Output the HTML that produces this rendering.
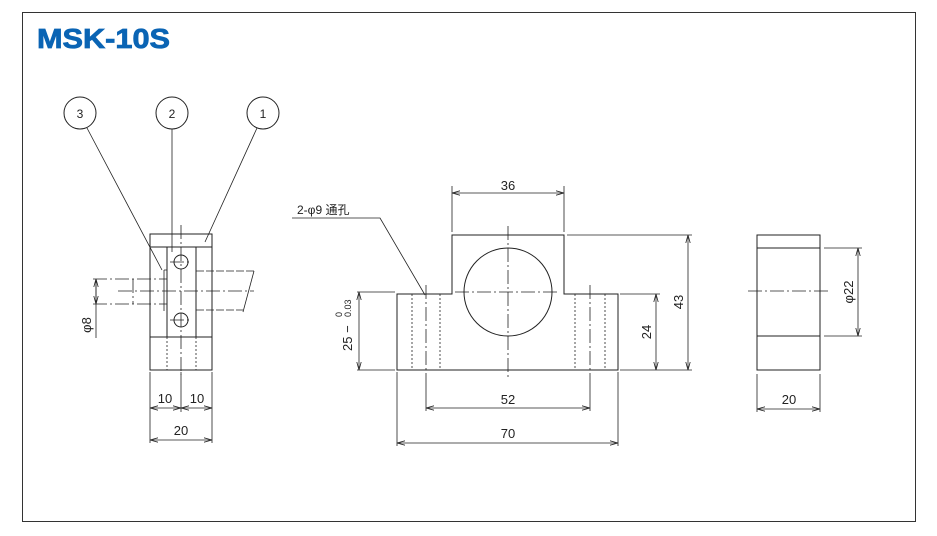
<!DOCTYPE html>
<html><head><meta charset="utf-8"><style>html,body{margin:0;padding:0;background:#fff}svg{display:block}</style></head><body>
<svg width="937" height="536" viewBox="0 0 937 536" xmlns="http://www.w3.org/2000/svg" font-family="Liberation Sans, Noto Sans CJK JP, sans-serif">
<defs><marker id="a" markerWidth="8" markerHeight="6" refX="8" refY="3" orient="auto-start-reverse" markerUnits="userSpaceOnUse"><path d="M0,0.8 L8,3 L0,5.2" fill="none" stroke="#222" stroke-width="0.8"/></marker></defs>
<rect x="22.5" y="12.5" width="893" height="509" fill="none" stroke="#333" stroke-width="1"/>
<text x="37" y="48" font-size="28" font-weight="bold" fill="#0a64b4" stroke="#0a64b4" stroke-width="0.8" textLength="133" lengthAdjust="spacingAndGlyphs">MSK-10S</text>
<g fill="none" stroke="#222" stroke-width="1">
<circle cx="80" cy="113" r="16"/><circle cx="172" cy="113" r="16"/><circle cx="263" cy="113" r="16"/>
<path d="M87,128 L162,270 M172,129 L172,252 M257,128 L205,242" stroke-width="0.8"/>
<rect x="150" y="234" width="62" height="136"/>
<path d="M150,247 H212 M150,337 H212"/>
<rect x="167" y="247" width="29" height="90"/>
<circle cx="181" cy="262" r="7"/><circle cx="181" cy="320" r="7"/>
<path d="M164,270 L164,311 M164,270 L167,270" stroke-width="0.8"/>
<path d="M167,337 V370 M196,337 V370" stroke-dasharray="2,2" stroke-width="0.8"/>
<path d="M196,271 H254 M196,310 H243" stroke-dasharray="8,2" stroke-width="0.8"/>
<path d="M254,271 L243,312" stroke-width="0.8"/>
<path d="M93,279 H167 M93,304 H167 M133,279 V304" stroke-dasharray="14,3,2,3" stroke-width="0.8"/>
<path d="M118,291 H254 M181,225 V375 M170,262 H192 M170,320 H192" stroke-dasharray="14,3,2,3" stroke-width="0.8"/>
<path d="M96,279 V338" stroke-width="0.8"/>
<g stroke-width="0.8" marker-start="url(#a)" marker-end="url(#a)">
<path d="M96,279 V304"/>
<path d="M150,408 H181"/><path d="M181,408 H212"/><path d="M150,440 H212"/>
<path d="M452,193 H564"/><path d="M688,235 V370"/><path d="M656,294 V370"/><path d="M359,292 V370"/><path d="M426,408 H590"/><path d="M397,443 H618"/>
<path d="M858,248 V336"/><path d="M757,409 H820"/>
</g>
<path d="M150,372 V443 M181,372 V412 M212,372 V443" stroke-width="0.8"/>
<path d="M397,294 H452 V235 H564 V294 H618 V370 H397 Z"/>
<circle cx="508" cy="292" r="44"/>
<path d="M412,294 V370 M440,294 V370 M575,294 V370 M605,294 V370" stroke-dasharray="2,2" stroke-width="0.8"/>
<path d="M426,285 V375 M590,285 V375 M508,226 V380 M455,292 H560" stroke-dasharray="14,3,2,3" stroke-width="0.8"/>
<path d="M452,232 V186 M564,232 V186 M567,235 H692 M620,294 H660 M357,292 H395 M357,370 H395 M620,370 H692 M397,372 V446 M618,372 V446 M426,375 V411 M590,375 V411" stroke-width="0.8"/>
<path d="M292,218 H380 L425,295" stroke-width="0.8"/>
<rect x="757" y="235" width="63" height="135"/>
<path d="M757,248 H820 M757,336 H820"/>
<path d="M748,291 H830" stroke-dasharray="14,3,2,3" stroke-width="0.8"/>
<path d="M824,248 H862 M824,336 H862 M757,374 V412 M820,374 V412" stroke-width="0.8"/>
</g>
<g font-size="13" fill="#222">
<text x="80" y="118" text-anchor="middle" font-size="12">3</text>
<text x="172" y="118" text-anchor="middle" font-size="12">2</text>
<text x="263" y="118" text-anchor="middle" font-size="12">1</text>
<text x="165" y="403" text-anchor="middle">10</text>
<text x="197" y="403" text-anchor="middle">10</text>
<text x="181" y="435" text-anchor="middle">20</text>
<text transform="translate(91,325) rotate(-90)" text-anchor="middle">φ8</text>
<text x="508" y="190" text-anchor="middle">36</text>
<text x="508" y="404" text-anchor="middle">52</text>
<text x="508" y="438" text-anchor="middle">70</text>
<text x="297" y="214" font-size="12">2-φ9 通孔</text>
<text transform="translate(683,302) rotate(-90)" text-anchor="middle">43</text>
<text transform="translate(651,332) rotate(-90)" text-anchor="middle">24</text>
<text transform="translate(352,351) rotate(-90)">25 −</text>
<text transform="translate(342,317) rotate(-90)" font-size="9">0</text>
<text transform="translate(351,317) rotate(-90)" font-size="9">0.03</text>
<text transform="translate(853,292) rotate(-90)" text-anchor="middle">φ22</text>
<text x="789" y="404" text-anchor="middle">20</text>
</g>
</svg>
</body></html>
